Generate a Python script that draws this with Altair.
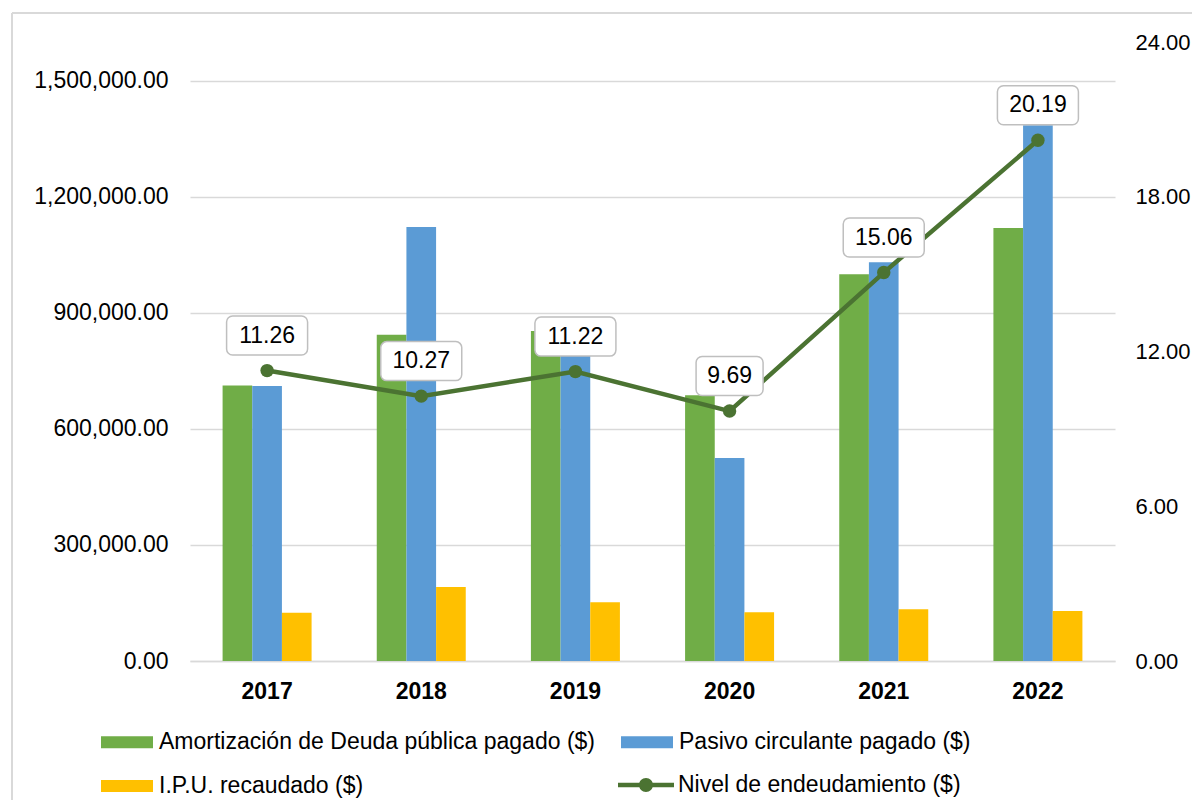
import altair as alt
import pandas as pd

FONT = "Liberation Sans, Arial, sans-serif"
FS = 23

years = ["2017", "2018", "2019", "2020", "2021", "2022"]
amortizacion = [712000, 843000, 853000, 687000, 1000000, 1119000]
pasivo = [711000, 1122000, 800000, 525000, 1031000, 1385000]
ipu = [125000, 191000, 152000, 126000, 134000, 129000]
nivel = [11.26, 10.27, 11.22, 9.69, 15.06, 20.19]

series_names = [
    "Amortización de Deuda pública pagado ($)",
    "Pasivo circulante pagado ($)",
    "I.P.U. recaudado ($)",
]
line_name = "Nivel de endeudamiento ($)"
left_ticks = [0, 300000, 600000, 900000, 1200000, 1500000]
right_ticks = [0, 6, 12, 18, 24]
bar_colors = ["#70AD47", "#5B9BD5", "#FFC000"]
line_color = "#4B7332"

W, H = 925, 619
RIGHT_MAX = 24
ppu = H / RIGHT_MAX  # pixels per unit on right axis

rows = []
for i, y in enumerate(years):
    for name, vals in zip(series_names, [amortizacion, pasivo, ipu]):
        rows.append({"year": y, "serie": name, "valor": vals[i]})
bar_df = pd.DataFrame(rows)
line_df = pd.DataFrame({"year": years, "nivel": nivel, "serie": [line_name] * len(years)})

x_enc = alt.X(
    "year:N",
    scale=alt.Scale(paddingInner=0.4227, paddingOuter=0.2114),
    axis=alt.Axis(
        title=None, labelFontWeight="bold", ticks=False, domain=True,
        domainColor="#D9D9D9", domainWidth=1.5, labelPadding=30,
        labelBaseline="middle", labelAngle=0, grid=False,
    ),
)

bars = alt.Chart(bar_df).mark_bar().encode(
    x=x_enc,
    xOffset=alt.XOffset("serie:N", sort=series_names, scale=alt.Scale(paddingInner=0, paddingOuter=0)),
    y=alt.Y(
        "valor:Q",
        scale=alt.Scale(domain=[0, 1600000], nice=False),
        axis=alt.Axis(
            values=left_ticks, format=",.2f", title=None, ticks=False, domain=False,
            labelPadding=22, grid=True, gridColor="#D9D9D9", gridWidth=1.5,
        ),
    ),
    color=alt.Color(
        "serie:N",
        scale=alt.Scale(domain=series_names, range=bar_colors),
        legend=alt.Legend(
            title=None, orient="none", direction="horizontal", legendX=-89, legendY=688.5,
            columns=2, symbolType="M-1,-0.23H1V0.23H-1Z", symbolSize=2704, clipHeight=23,
            labelFontSize=FS, labelFont=FONT, labelColor="black", labelOffset=6,
            columnPadding=26, rowPadding=20, labelLimit=800, symbolStrokeWidth=0,
            padding=0,
        ),
    ),
)

right_axis = alt.Axis(
    orient="right", values=right_ticks, format=".2f", title=None, grid=False,
    domain=False, ticks=False, labelPadding=20, labelFontSize=22,
)
right_scale = alt.Scale(domain=[0, RIGHT_MAX], nice=False)


def yr(field):
    return alt.Y(field, scale=right_scale, axis=right_axis)


base = alt.Chart(line_df).encode(x=alt.X("year:N"))

line = base.mark_line(color=line_color, strokeWidth=4.5).encode(y=yr("nivel:Q"))

line_symbol = (
    "M-1,-0.08H1V0.08H-1Z "
    "M-0.25,0A0.25,0.25,0,1,1,0.25,0A0.25,0.25,0,1,1,-0.25,0Z"
)
points = base.mark_circle(size=180, opacity=1).encode(
    y=yr("nivel:Q"),
    color=alt.Color(
        "serie:N",
        scale=alt.Scale(domain=[line_name], range=[line_color]),
        legend=alt.Legend(
            title=None, orient="none", direction="horizontal", legendX=428, legendY=731.5,
            symbolType=line_symbol, symbolSize=3136, clipHeight=23,
            labelFontSize=FS, labelFont=FONT, labelColor="black", labelOffset=4,
            labelLimit=800, symbolStrokeWidth=0, padding=0,
        ),
    ),
)

box_hi = (35 + 19.5) / ppu
box_lo = (35 - 19.5) / ppu
labeled = base.transform_calculate(
    label="format(datum.nivel, '.2f')",
    top=f"datum.nivel + {box_hi}",
    bot=f"datum.nivel + {box_lo}",
).transform_calculate(n="length(datum.label)")

box_style = dict(fill="white", stroke="#BFBFBF", strokeWidth=1.5, cornerRadius=6)
boxes5 = labeled.transform_filter("datum.n >= 5").mark_rect(width=81, **box_style).encode(
    y=yr("top:Q"), y2="bot:Q"
)
boxes4 = labeled.transform_filter("datum.n < 5").mark_rect(width=67, **box_style).encode(
    y=yr("top:Q"), y2="bot:Q"
)
texts = labeled.mark_text(dy=-35, fontSize=FS, font=FONT, baseline="middle", color="black").encode(
    y=yr("nivel:Q"), text="label:N"
)

right_layer = alt.layer(line, points, boxes5, boxes4, texts)

frame = alt.Data(values=[{"k": 1}])
border_v = alt.Chart(frame).mark_rule(color="#D9D9D9", strokeWidth=2).encode(
    x=alt.value(-178), y=alt.value(-29), y2=alt.value(800)
)
border_h = alt.Chart(frame).mark_rule(color="#D9D9D9", strokeWidth=2).encode(
    y=alt.value(-29), x=alt.value(-178), x2=alt.value(1100)
)

chart = (
    alt.layer(border_v, border_h, bars, right_layer)
    .resolve_scale(y="independent", color="independent")
    .properties(
        width=W, height=H,
        padding={"left": 182, "top": 34, "right": 77, "bottom": 139},
        autosize=alt.AutoSizeParams(type="none"),
        background="white",
    )
    .configure_axis(labelFont=FONT, labelFontSize=FS, labelColor="black")
    .configure_view(stroke=None)
)

chart.save("out.html", embed_options={"renderer": "svg", "actions": False})
